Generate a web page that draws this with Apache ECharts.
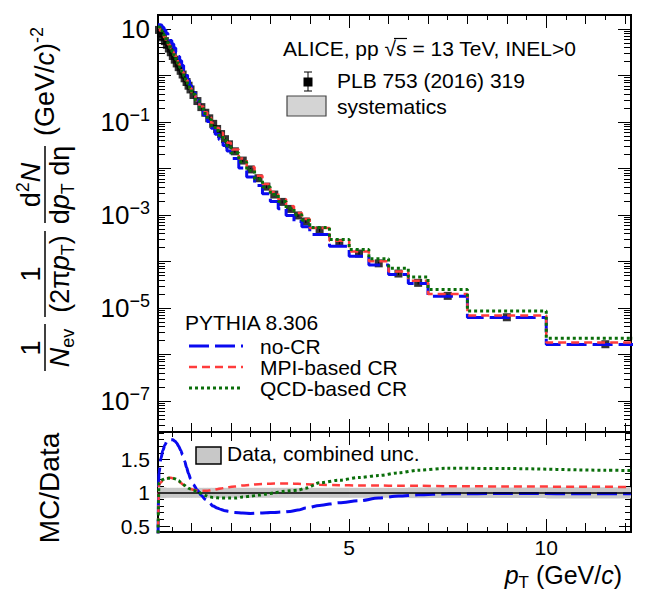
<!DOCTYPE html>
<html><head><meta charset="utf-8">
<script src="https://cdn.jsdelivr.net/npm/echarts@6/dist/echarts.min.js"></script>
<style>html,body{margin:0;padding:0;background:#fff}#c{width:652px;height:594px}</style>
</head><body><div id="c"></div>
<script>
// ---------- data ----------
const binEdges = [0.15,0.2,0.25,0.3,0.35,0.4,0.45,0.5,0.55,0.6,0.65,0.7,0.75,0.8,0.85,0.9,0.95,1.0,
  1.1,1.2,1.3,1.4,1.5,1.6,1.7,1.8,1.9,2.0,
  2.2,2.4,2.6,2.8,3.0,3.2,3.4,3.6,3.8,4.0,
  4.5,5.0,5.5,6.0,6.5,7.0,8.0,10.0,13.0];
// ALICE data, 1/Nev 1/(2pi pT) d2N/dpTdeta
const dataValues = [9.55,7.94,6.61,5.50,4.57,3.80,3.16,2.63,2.19,1.82,1.51,1.26,1.05,0.871,0.724,0.603,0.501,
  0.380,0.282,0.209,0.158,0.120,0.0912,0.0708,0.0550,0.0427,0.0331,
  0.0234,0.0148,0.00955,0.00617,0.00407,0.00275,0.00191,0.00135,0.000977,0.000724,
  4.68e-4,2.51e-4,1.48e-4,9.12e-5,5.50e-5,3.47e-5,
  1.82e-5,6.31e-6,1.66e-6];
// data combined relative uncertainty
const dataRelUnc = [0.09,0.085,0.08,0.08,0.075,0.075,0.075,0.075,0.075,0.075,0.075,0.075,0.075,0.075,0.075,0.075,0.075,
  0.075,0.075,0.075,0.075,0.075,0.075,0.075,0.075,0.075,0.075,
  0.075,0.075,0.075,0.075,0.075,0.075,0.075,0.075,0.075,0.075,
  0.075,0.075,0.075,0.075,0.075,0.08,
  0.08,0.08,0.085];
// MC / Data ratios per bin
const ratioNoCR = [1.30,1.52,1.64,1.72,1.77,1.79,1.80,1.80,1.78,1.75,1.70,1.64,1.57,1.48,1.38,1.29,1.21,
  1.12,1.04,0.96,0.90,0.85,0.80,0.77,0.75,0.73,0.72,
  0.705,0.695,0.69,0.695,0.70,0.705,0.71,0.72,0.74,0.77,
  0.81,0.85,0.88,0.92,0.95,0.97,
  0.985,0.99,0.985];
const ratioMPI = [1.12,1.16,1.19,1.21,1.22,1.225,1.225,1.22,1.21,1.19,1.17,1.15,1.13,1.11,1.09,1.075,1.06,
  1.045,1.035,1.03,1.03,1.035,1.045,1.055,1.065,1.075,1.085,
  1.095,1.11,1.12,1.13,1.135,1.14,1.14,1.14,1.135,1.13,
  1.12,1.115,1.11,1.11,1.105,1.105,
  1.10,1.095,1.09];
const ratioQCD = [1.15,1.18,1.20,1.21,1.215,1.22,1.22,1.22,1.21,1.20,1.18,1.16,1.14,1.11,1.09,1.07,1.055,
  1.035,1.02,0.99,0.96,0.94,0.93,0.925,0.92,0.92,0.92,
  0.92,0.935,0.95,0.965,0.98,1.00,1.02,1.03,1.04,1.07,
  1.15,1.19,1.23,1.26,1.30,1.34,
  1.37,1.365,1.34];
// ratio curves: drop below the frame at the lowest edge, and level at the right frame edge
const ratioAtLowEdge = {noCR: 0.3, MPI: 0.3, QCD: 0.3};
const ratioAtHighEdge = {noCR: 0.985, MPI: 1.085, QCD: 1.335};

// axes / ticks
const xMin = 0.15, xMax = 12.15;
const yMin = 2.15e-8, yMax = 20;
const rMin = 0.41, rMax = 1.915;
const xLabelValues = [5,10];
const xIntTicks = [1,2,3,4,5,6,7,8,9,10,11,12];
const xHalfTicks = [0.5,1.5,2.5,3.5,4.5,5.5,6.5,7.5,8.5,9.5,10.5,11.5];
const yDecadeExps = [-7,-6,-5,-4,-3,-2,-1,0,1];
const yLabelExps = [-7,-5,-3,-1,1];
const ratioMajorTicks = [0.5,1,1.5];
const ratioMinorTicks = [0.5,0.6,0.7,0.8,0.9,1.1,1.2,1.3,1.4,1.6,1.7,1.8,1.9];

// ---------- build ----------
const FONT = 'Liberation Sans';
const C_BLUE = '#0a0af0', C_RED = '#ff3c3c', C_GREEN = '#0a6e0a';
const centers = dataValues.map((_, i) => (binEdges[i] + binEdges[i + 1]) / 2);
const decadeVals = yDecadeExps.map(e => Number('1e' + e));
const minorVals = [];
for (let e = -8; e <= 1; e++) for (let m = 2; m <= 9; m++) { const v = m * Number('1e' + e); if (v > yMin && v < yMax) minorVals.push(v); }
const labelVals = yLabelExps.map(e => Number('1e' + e));

function stepData(vals) {
  const d = vals.map((v, i) => [binEdges[i], v]);
  d.push([binEdges[vals.length], vals[vals.length - 1]]);
  return d;
}
const mcNoCR = dataValues.map((v, i) => v * ratioNoCR[i]);
const mcMPI = dataValues.map((v, i) => v * ratioMPI[i]);
const mcQCD = dataValues.map((v, i) => v * ratioQCD[i]);
function ratioLine(r, low, high) {
  return [[binEdges[0], low]].concat(centers.map((c, i) => [c, r[i]])).concat([[xMax, high]]);
}

function xAx(grid, pos, ticks, len, labels) {
  return {type: 'value', gridIndex: grid, position: pos, min: xMin, max: xMax,
    axisLine: {show: false, onZero: false}, splitLine: {show: false},
    axisTick: {show: true, inside: true, length: len, customValues: ticks, lineStyle: {color: '#000', width: 1}},
    axisLabel: labels ? {show: true, customValues: xLabelValues, color: '#000', fontFamily: FONT, fontSize: 21, margin: 5} : {show: false}};
}
function logAx(pos, ticks, len, labels) {
  return {type: 'log', logBase: 10, gridIndex: 0, position: pos, min: yMin, max: yMax,
    axisLine: {show: false, onZero: false}, splitLine: {show: false}, minorTick: {show: false},
    axisTick: {show: true, inside: true, length: len, customValues: ticks, lineStyle: {color: '#000', width: 1}},
    axisLabel: labels ? {show: true, customValues: labelVals, margin: 8, color: '#000', fontFamily: FONT, fontSize: 26,
      formatter: v => { const e = Math.round(Math.log10(v)); return e === 1 ? '10' : '10{sup|\u2212' + Math.abs(e) + '}'; },
      rich: {sup: {fontSize: 18, fontFamily: FONT, color: '#000', padding: [0, 0, 14, 0]}}} : {show: false}};
}
function rAx(pos, ticks, len, labels) {
  return {type: 'value', gridIndex: 1, position: pos, min: rMin, max: rMax,
    axisLine: {show: false, onZero: false}, splitLine: {show: false},
    axisTick: {show: true, inside: true, length: len, customValues: ticks, lineStyle: {color: '#000', width: 1}},
    axisLabel: labels ? {show: true, customValues: ratioMajorTicks, margin: 8, color: '#000', fontFamily: FONT, fontSize: 21} : {show: false}};
}

const xAxes = [];
[0, 1].forEach(g => ['bottom', 'top'].forEach(pos => {
  xAxes.push(xAx(g, pos, xLabelValues, 13, g === 1 && pos === 'bottom'));
  xAxes.push(xAx(g, pos, xIntTicks, 9, false));
  xAxes.push(xAx(g, pos, xHalfTicks, 5, false));
}));
const yAxes = [
  logAx('left', decadeVals, 13, true), logAx('left', minorVals, 7, false),
  logAx('right', decadeVals, 13, false), logAx('right', minorVals, 7, false),
  rAx('left', ratioMajorTicks, 12, true), rAx('left', ratioMinorTicks, 6, false),
  rAx('right', ratioMajorTicks, 12, false), rAx('right', ratioMinorTicks, 6, false)
];

const lsBlue = {color: C_BLUE, width: 3, type: [20, 6]};
const lsRed = {color: C_RED, width: 2.5, type: [8, 5]};
const lsGreen = {color: C_GREEN, width: 3, type: [3, 3]};

const series = [
  // ratio band
  {type: 'custom', xAxisIndex: 6, yAxisIndex: 4, z: 1,
    data: centers.map((c, i) => [binEdges[i], binEdges[i + 1], dataRelUnc[i]]),
    renderItem: (params, api) => {
      const p1 = api.coord([api.value(0), 1 + api.value(2)]);
      const p2 = api.coord([api.value(1), 1 - api.value(2)]);
      const rect = echarts.graphic.clipRectByRect({x: p1[0], y: p1[1], width: p2[0] - p1[0] + 0.5, height: p2[1] - p1[1]},
        {x: params.coordSys.x, y: params.coordSys.y, width: params.coordSys.width, height: params.coordSys.height});
      return rect ? {type: 'rect', shape: rect, style: {fill: '#c8c8c8'}} : null;
    },
    markLine: {silent: true, symbol: ['none', 'none'], label: {show: false}, animation: false,
      lineStyle: {color: '#000', width: 1.5, type: 'solid'}, data: [{yAxis: 1}]}},
  {type: 'line', name: 'no-CR r', xAxisIndex: 6, yAxisIndex: 4, data: ratioLine(ratioNoCR, ratioAtLowEdge.noCR, ratioAtHighEdge.noCR), showSymbol: false, smooth: 0.3, smoothMonotone: 'x', lineStyle: lsBlue, z: 3},
  {type: 'line', name: 'MPI r', xAxisIndex: 6, yAxisIndex: 4, data: ratioLine(ratioMPI, ratioAtLowEdge.MPI, ratioAtHighEdge.MPI), showSymbol: false, smooth: 0.3, smoothMonotone: 'x', lineStyle: lsRed, z: 4},
  {type: 'line', name: 'QCD r', xAxisIndex: 6, yAxisIndex: 4, data: ratioLine(ratioQCD, ratioAtLowEdge.QCD, ratioAtHighEdge.QCD), showSymbol: false, smooth: 0.3, smoothMonotone: 'x', lineStyle: lsGreen, z: 5},
  // data error bars
  {type: 'custom', xAxisIndex: 0, yAxisIndex: 0, z: 2,
    data: centers.map((c, i) => [c, dataValues[i], dataRelUnc[i]]),
    renderItem: (params, api) => {
      const x = api.value(0), y = api.value(1), u = api.value(2);
      const a = api.coord([x, y * (1 + u)]), b = api.coord([x, y * (1 - u)]);
      return {type: 'line', shape: {x1: a[0], y1: a[1], x2: b[0], y2: b[1]}, style: {stroke: '#000', lineWidth: 1}};
    }},
  {type: 'scatter', xAxisIndex: 0, yAxisIndex: 0, z: 2, data: centers.map((c, i) => [c, dataValues[i]]),
    symbol: 'rect', symbolSize: 8, itemStyle: {color: '#000'}},
  {type: 'line', name: 'no-CR', xAxisIndex: 0, yAxisIndex: 0, data: stepData(mcNoCR), step: 'end', showSymbol: false, lineStyle: lsBlue, z: 3},
  {type: 'line', name: 'MPI', xAxisIndex: 0, yAxisIndex: 0, data: stepData(mcMPI), step: 'end', showSymbol: false, lineStyle: lsRed, z: 4},
  {type: 'line', name: 'QCD', xAxisIndex: 0, yAxisIndex: 0, data: stepData(mcQCD), step: 'end', showSymbol: false, lineStyle: lsGreen, z: 5}
];

// ---------- texts & legends ----------
const TF = 27;
const richT = {
  i: {fontStyle: 'italic', fontSize: TF, fontFamily: FONT, color: '#000'},
  s: {fontSize: 18, fontFamily: FONT, color: '#000', padding: [16, 0, 0, 0]},
  sup: {fontSize: 18, fontFamily: FONT, color: '#000', padding: [0, 0, 16, 0]}
};
function T(x, y, text, opts) {
  opts = opts || {};
  return {type: 'text', x: x, y: y, z: 100, rotation: opts.rotation || 0,
    style: {text: text, fill: '#000', fontFamily: FONT, fontSize: opts.fontSize || 21,
      align: opts.align || 'left', verticalAlign: opts.verticalAlign || 'middle', rich: opts.rich}};
}
function L(x1, y1, x2, y2, stroke, w, dash) {
  return {type: 'line', z: 100, shape: {x1, y1, x2, y2}, style: {stroke, lineWidth: w, lineDash: dash || null}};
}
const tOpt = {fontSize: TF, align: 'center', rich: richT};
const yTitle = {type: 'group', x: 45, y: 372, rotation: Math.PI / 2, children: [
  T(24, -14, '1', tOpt), L(1, 0, 48, 0, '#000', 1.5), T(24, 15, '{i|N}{s|ev}', tOpt),
  T(98, -14, '1', tOpt), L(55, 0, 141, 0, '#000', 1.5), T(98, 15, '(2π{i|p}{s|T})', tOpt),
  T(187, -14, 'd{sup|2}{i|N}', tOpt), L(149, 0, 226, 0, '#000', 1.5), T(187, 15, 'd{i|p}{s|T} dη', tOpt),
  T(236, 0, '(GeV/{i|c}){sup|-2}', {fontSize: TF, align: 'left', rich: richT})
]};

const richX = {
  i: {fontStyle: 'italic', fontSize: 25, fontFamily: FONT, color: '#000'},
  s: {fontSize: 17, fontFamily: FONT, color: '#000', padding: [14, 0, 0, 0]}
};

const graphics = [
  yTitle,
  T(49, 488, 'MC/Data', {fontSize: 28, align: 'center', rotation: Math.PI / 2}),
  T(622, 575, '{i|p}{s|T} (GeV/{i|c})', {fontSize: 25, align: 'right', rich: richX}),
  // top-right legend
  T(283, 48, 'ALICE, pp \u221As = 13 TeV, INEL>0', {fontSize: 21}),
  L(394, 38.5, 407, 38.5, '#000', 1.2),
  L(308, 72, 308, 91, '#000', 1), L(304, 72, 312, 72, '#000', 1), L(304, 91, 312, 91, '#000', 1),
  {type: 'rect', z: 100, shape: {x: 303.5, y: 77.5, width: 9, height: 9}, style: {fill: '#000'}},
  T(337, 80, 'PLB 753 (2016) 319', {fontSize: 21}),
  {type: 'rect', z: 100, shape: {x: 287, y: 96, width: 39, height: 20}, style: {fill: '#d4d4d4', stroke: '#444', lineWidth: 1.2}},
  T(337, 106, 'systematics', {fontSize: 21}),
  // PYTHIA legend
  T(185, 322, 'PYTHIA 8.306', {fontSize: 21}),
  L(189, 346, 243, 346, C_BLUE, 3, [20, 6]), T(260, 346, 'no-CR', {fontSize: 21}),
  L(189, 367, 243, 367, C_RED, 2.5, [8, 5]), T(260, 367, 'MPI-based CR', {fontSize: 21}),
  L(189, 388, 243, 388, C_GREEN, 3, [3, 3]), T(260, 388, 'QCD-based CR', {fontSize: 21}),
  // ratio legend
  {type: 'rect', z: 100, shape: {x: 196, y: 447, width: 25, height: 17}, style: {fill: '#c8c8c8', stroke: '#000', lineWidth: 1.5}},
  T(227, 453, 'Data, combined unc.', {fontSize: 21})
];

const chart = echarts.init(document.getElementById('c'), null, {renderer: 'svg', width: 652, height: 594});
chart.setOption({
  animation: false,
  backgroundColor: '#fff',
  textStyle: {fontFamily: FONT},
  grid: [
    {left: 158, top: 15, width: 473, height: 417, show: true, borderColor: '#000', borderWidth: 2, backgroundColor: 'transparent'},
    {left: 158, top: 432, width: 473, height: 100, show: true, borderColor: '#000', borderWidth: 2, backgroundColor: 'transparent'}
  ],
  xAxis: xAxes,
  yAxis: yAxes,
  series: series,
  graphic: graphics
});
</script>
</body></html>
